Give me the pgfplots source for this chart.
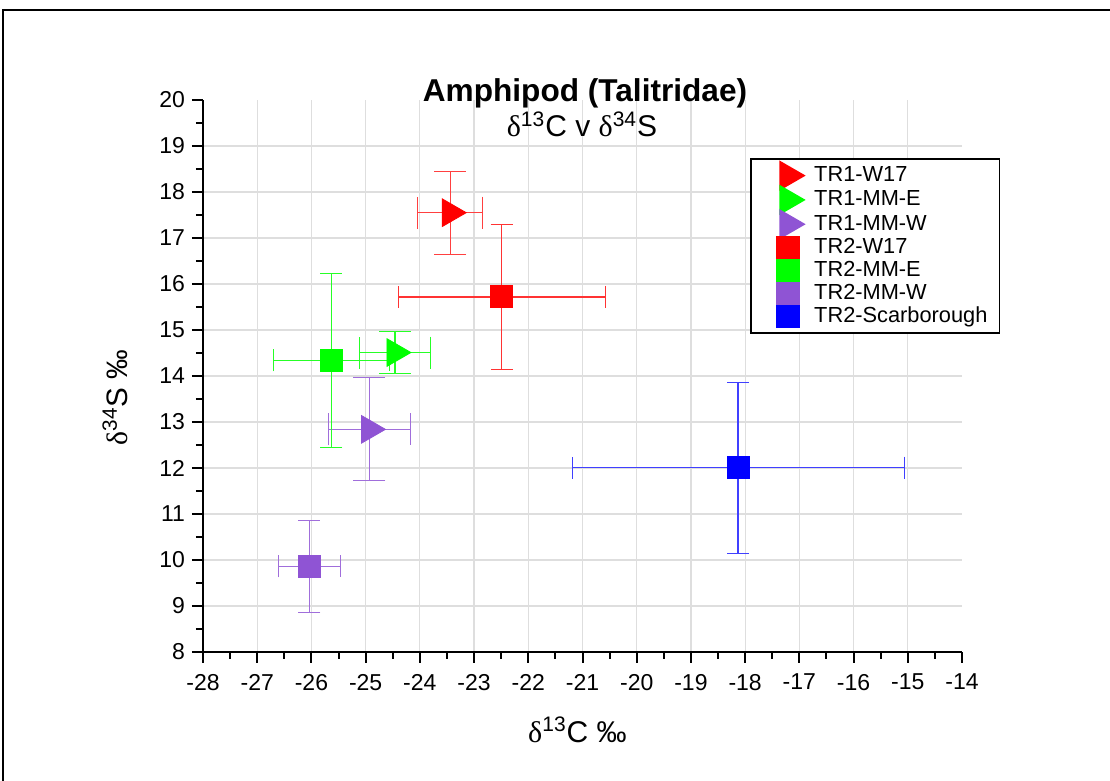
\documentclass[border=0pt]{standalone}
\usepackage{pgfplots}
\pgfplotsset{compat=1.18}
\usepackage{fontspec}
\setmainfont{Liberation Sans}
\newfontfamily\serif{Liberation Serif}
\definecolor{myred}{RGB}{255,0,0}
\definecolor{mygreen}{RGB}{0,255,0}
\definecolor{mypurple}{RGB}{143,84,212}
\definecolor{myblue}{RGB}{0,0,255}
\definecolor{gridgray}{RGB}{222,222,222}
\begin{document}
\begin{tikzpicture}
\useasboundingbox (0,0) rectangle (555pt,390.5pt);
\draw[line width=1pt] (1.5pt,0) -- (1.5pt,385.5pt) -- (556pt,385.5pt);
\begin{axis}[
  at={(101.5pt,64.5pt)}, anchor=south west,
  width=379.5pt, height=276pt, scale only axis,
  xmin=-28, xmax=-14, ymin=8, ymax=20,
  axis x line*=bottom, axis y line*=left,
  axis line style={-, line width=1pt, black},
  xtick={-28,-27,...,-15}, extra x ticks={-14}, extra x tick style={grid=none},
  ytick={8,9,...,19}, extra y ticks={20}, extra y tick style={grid=none},
  minor xtick={-27.5,-26.5,...,-14.5},
  minor ytick={8.5,9.5,...,19.5},
  tick align=outside,
  major tick length=5.5pt, minor tick length=3.5pt,
  every tick/.style={black, line width=1pt},
  grid=major, major grid style={gridgray, line width=0.6pt},
  /pgf/number format/assume math mode=true,
  ticklabel style={font=\fontsize{11.5}{13}\selectfont},
  xticklabel style={yshift=-2pt},
  xlabel={{\serif δ}\textsuperscript{13}C ‰},
  xlabel style={at={(axis description cs:0.4934,-0.1413)}, anchor=center, font=\fontsize{15}{17}\selectfont},
  ylabel={{\serif δ}\textsuperscript{34}S ‰},
  ylabel style={at={(axis description cs:-0.116,0.461)}, anchor=center, rotate=0, font=\fontsize{14.8}{17}\selectfont},
  legend style={at={(0.7207,0.895)}, anchor=north west, draw=black, line width=0.8pt,
    font=\fontsize{10.9}{12}\selectfont, row sep=-1.7pt, inner xsep=4pt, inner ysep=1.5pt},
  legend image code/.code={\path (0cm,0cm) (0.875cm,0cm);
    \draw[mark repeat=2,mark phase=2,#1] plot coordinates {(0cm,0cm) (0.5cm,0cm) (0.875cm,0cm)};},
  legend cell align=left,
  error bars/error mark=|,
  error bars/error bar style={line width=0.7pt},
  error bars/error mark options={mark size=3.2pt, line width=0.7pt},
]
\addplot[only marks, color=myred, mark=triangle*, mark size=8pt, mark options={rotate=-90, draw=none, fill=myred},
  error bars/.cd, x dir=both, x explicit, y dir=both, y explicit,
  error bar style={myred!75!white}, error mark options={myred!75!white}]
  coordinates {(-23.44,17.55) +- (0.60,0.90)};
\addlegendentry{TR1-W17}
\addplot[only marks, color=mygreen, mark=triangle*, mark size=8pt, mark options={rotate=-90, draw=none, fill=mygreen},
  error bars/.cd, x dir=both, x explicit, y dir=both, y explicit,
  error bar style={mygreen!85!white}, error mark options={mygreen!85!white}]
  coordinates {(-24.46,14.51) +- (0.65,0.46)};
\addlegendentry{TR1-MM-E}
\addplot[only marks, color=mypurple, mark=triangle*, mark size=8pt, mark options={rotate=-90, draw=none, fill=mypurple},
  error bars/.cd, x dir=both, x explicit, y dir=both, y explicit,
  error bar style={mypurple!85!white}, error mark options={mypurple!85!white}]
  coordinates {(-24.93,12.84) +- (0.75,1.12)};
\addlegendentry{TR1-MM-W}
\addplot[only marks, color=myred, mark=square*, mark size=5.5pt, mark options={draw=none, fill=myred},
  error bars/.cd, x dir=both, x explicit, y dir=both, y explicit,
  error bar style={myred!80!white}, error mark options={myred!80!white}]
  coordinates {(-22.49,15.72) +- (1.91,1.58)};
\addlegendentry{TR2-W17}
\addplot[only marks, color=mygreen, mark=square*, mark size=5.5pt, mark options={draw=none, fill=mygreen},
  error bars/.cd, x dir=both, x explicit, y dir=both, y explicit,
  error bar style={mygreen!85!white}, error mark options={mygreen!85!white}]
  coordinates {(-25.63,14.34) +- (1.07,1.90)};
\addlegendentry{TR2-MM-E}
\addplot[only marks, color=mypurple, mark=square*, mark size=5.5pt, mark options={draw=none, fill=mypurple},
  error bars/.cd, x dir=both, x explicit, y dir=both, y explicit,
  error bar style={mypurple!85!white}, error mark options={mypurple!85!white}]
  coordinates {(-26.04,9.86) +- (0.57,1.00)};
\addlegendentry{TR2-MM-W}
\addplot[only marks, color=myblue, mark=square*, mark size=5.5pt, mark options={draw=none, fill=myblue},
  error bars/.cd, x dir=both, x explicit, y dir=both, y explicit,
  error bar style={myblue!75!white}, error mark options={myblue!75!white}]
  coordinates {(-18.13,12.01) +- (3.06,1.86)};
\addlegendentry{TR2-Scarborough}
\end{axis}
\node[anchor=base, font=\fontsize{15.8}{18}\selectfont\bfseries] at (292.5pt,339.6pt) {Amphipod (Talitridae)};
\node[anchor=base, font=\fontsize{15}{17}\selectfont] at (291pt,322.2pt) {{\serif δ}\textsuperscript{13}C v {\serif δ}\textsuperscript{34}S};
\end{tikzpicture}
\end{document}
